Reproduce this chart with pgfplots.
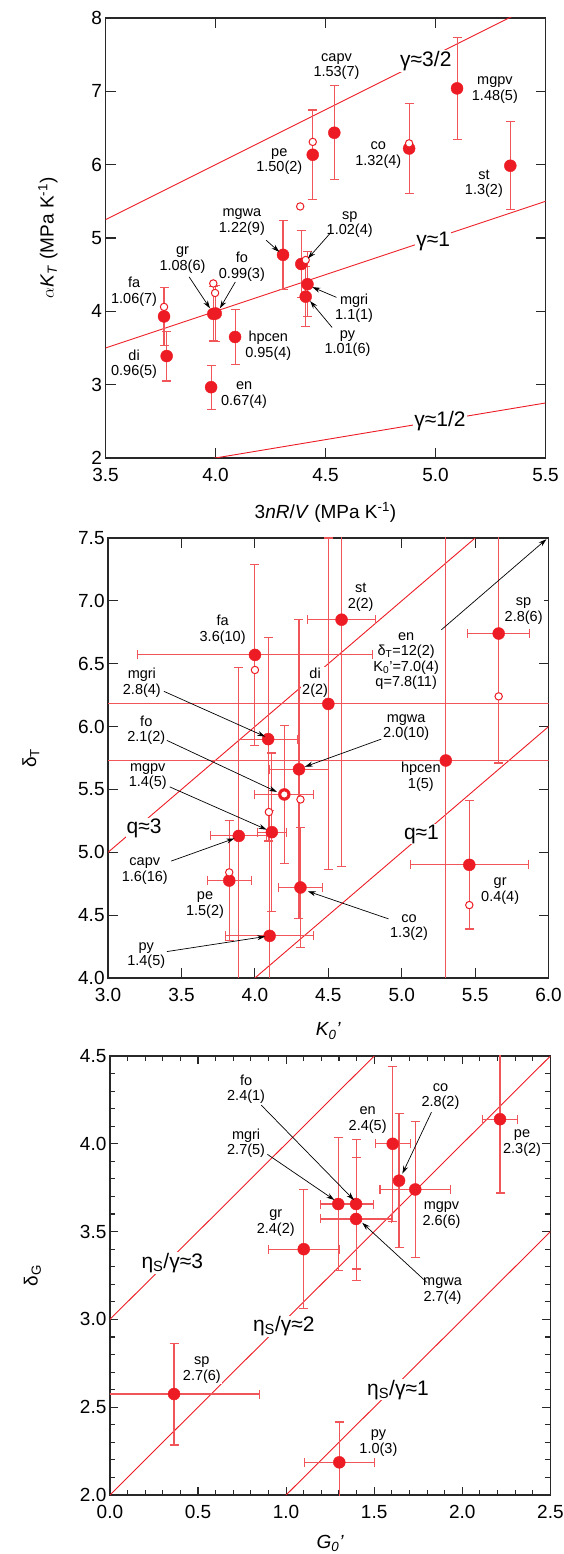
\documentclass[border=0pt]{standalone}
\usepackage{fontspec}
\setmainfont{Liberation Sans}
\usepackage{pgfplots}
\pgfplotsset{compat=1.18}
\usetikzlibrary{arrows.meta}
\definecolor{rd}{RGB}{237,28,36}
\definecolor{erd}{RGB}{240,85,90}
\definecolor{ax}{RGB}{40,40,40}
\pgfplotsset{
 panel/.style={scale only axis, clip mode=individual, anchor=south west,
   axis line style={ax, line width=1.3pt}, tick style={ax, line width=1.1pt},
   tick align=inside, xtick pos=both, ytick pos=both, major tick length=10pt,
   tick label style={font=\fontsize{19}{20}\selectfont},
   xticklabel style={yshift=-7pt},
   label style={font=\fontsize{19}{22}\selectfont},
   xlabel style={yshift=-14pt},
   /pgf/number format/assume math mode=true},
 fix1/.style={/pgf/number format/.cd, fixed, fixed zerofill, precision=1},
 ref/.style={rd, line width=0.9pt, mark=none},
 dat/.style={only marks, mark=*, mark size=6pt, mark options={draw=rd, fill=rd},
   error bars/error bar style={erd, line width=1.1pt},
   error bars/error mark options={erd, line width=1.1pt, mark size=4.5pt, rotate=90}},
 opn/.style={only marks, mark=*, mark size=3.7pt, mark options={draw=rd, fill=white, line width=1pt}},
}
\tikzset{
 lbl/.style={font=\fontsize{14.5}{15.5}\selectfont, align=center, inner sep=1pt, fill=white},
 big/.style={font=\fontsize{21}{22}\selectfont, fill=white, inner sep=1pt},
 arr/.style={-{Stealth[length=8pt,width=5pt]}, line width=0.7pt, black},
}
\begin{document}
\begin{tikzpicture}
\path[use as bounding box] (0,0) rectangle (563pt,1554pt);
% ---------------- Panel 1 ----------------
\begin{axis}[panel, at={(105.5pt,1096pt)}, width=440pt, height=440pt,
  xmin=3.5, xmax=5.5, ymin=2, ymax=8, xtick={3.5,4,...,5.5}, ytick={2,...,8},
  xticklabel style={fix1}, ylabel style={yshift=27pt},
  xlabel={3\textit{nR}/\textit{V} (MPa K\textsuperscript{-1})},
  ylabel={$\alpha$\textit{K}\textsubscript{\textit{T}} (MPa K\textsuperscript{-1})}]
\addplot[ref] coordinates {(3.5,5.25) (5.5,8.25)};
\addplot[ref] coordinates {(3.5,3.5) (5.5,5.5)};
\addplot[ref] coordinates {(3.5,1.75) (5.5,2.75)};
\node[big] at (axis cs:4.956,7.41) {γ≈3/2};
\node[big] at (axis cs:4.99,4.95) {γ≈1};
\node[big] at (axis cs:5.02,2.5) {γ≈1/2};
\node[lbl] at (axis cs:4.55,7.34) {capv\\1.53(7)};
\node[lbl] at (axis cs:5.27,7.02) {mgpv\\1.48(5)};
\node[lbl] at (axis cs:4.29,6.04) {pe\\1.50(2)};
\node[lbl] at (axis cs:4.74,6.13) {co\\1.32(4)};
\node[lbl] at (axis cs:5.22,5.74) {st\\1.3(2)};
\node[lbl] at (axis cs:4.12,5.22) {mgwa\\1.22(9)};
\node[lbl] at (axis cs:4.61,5.18) {sp\\1.02(4)};
\node[lbl] at (axis cs:3.85,4.70) {gr\\1.08(6)};
\node[lbl] at (axis cs:4.12,4.61) {fo\\0.99(3)};
\node[lbl] at (axis cs:3.63,4.27) {fa\\1.06(7)};
\node[lbl] at (axis cs:4.63,4.04) {mgri\\1.1(1)};
\node[lbl] at (axis cs:4.24,3.53) {hpcen\\0.95(4)};
\node[lbl] at (axis cs:4.60,3.56) {py\\1.01(6)};
\node[lbl] at (axis cs:3.63,3.28) {di\\0.96(5)};
\node[lbl] at (axis cs:4.13,2.86) {en\\0.67(4)};
\addplot[dat, error bars/.cd, y dir=both, y explicit] table[x=x, y=y, y error=ey] {
x y ey
4.540 6.435 0.64
4.442 6.135 0.61
4.880 6.220 0.615
5.098 7.040 0.70
5.340 5.985 0.60
4.307 4.770 0.47
4.390 4.645 0.46
4.418 4.370 0.44
4.410 4.200 0.41
3.766 3.930 0.40
3.778 3.390 0.34
3.990 3.965 0.37
4.001 3.970 0.38
4.089 3.650 0.37
3.980 2.965 0.30
};
\addplot[opn] coordinates {(4.442,6.31) (4.880,6.29) (4.385,5.43) (4.41,4.70) (3.766,4.06) (3.99,4.38) (3.998,4.25)};
\draw[arr] (axis cs:4.23,4.97) -- (axis cs:4.29,4.81);
\draw[arr] (axis cs:4.52,5.06) -- (axis cs:4.42,4.72);
\draw[arr] (axis cs:3.88,4.47) -- (axis cs:3.975,4.04);
\draw[arr] (axis cs:4.09,4.40) -- (axis cs:4.02,4.04);
\draw[arr] (axis cs:4.55,4.19) -- (axis cs:4.44,4.33);
\draw[arr] (axis cs:4.53,3.78) -- (axis cs:4.43,4.14);
\end{axis}
% ---------------- Panel 2 ----------------
\begin{axis}[panel, at={(108.1pt,576pt)}, width=440.5pt, height=440pt,
  xmin=3, xmax=6, ymin=4, ymax=7.5, xtick={3,3.5,...,6}, ytick={4,4.5,...,7.5},
  xticklabel style={fix1}, yticklabel style={fix1}, ylabel style={yshift=32pt},
  xlabel={\textit{K\textsubscript{0}'}},
  ylabel={δ\textsubscript{T}}]
\addplot[ref] coordinates {(3,5) (5.5,7.5)};
\addplot[ref] coordinates {(4,4) (6,6)};
\node[big] at (axis cs:3.245,5.19) {q≈3};
\node[big] at (axis cs:5.134,5.145) {q≈1};
\node[lbl] at (axis cs:4.72,7.03) {st\\2(2)};
\node[lbl] at (axis cs:3.78,6.77) {fa\\3.6(10)};
\node[lbl] at (axis cs:5.83,6.92) {sp\\2.8(6)};
\node[lbl] at (axis cs:5.03,6.52) {en\\δ\textsubscript{T}=12(2)\\K\textsubscript{0}'=7.0(4)\\q=7.8(11)};
\node[lbl] at (axis cs:3.23,6.35) {mgri\\2.8(4)};
\node[lbl] at (axis cs:4.41,6.35) {di\\2(2)};
\node[lbl] at (axis cs:3.26,5.97) {fo\\2.1(2)};
\node[lbl] at (axis cs:5.03,5.99) {mgwa\\2.0(10)};
\node[lbl] at (axis cs:3.27,5.60) {mgpv\\1.4(5)};
\node[lbl] at (axis cs:5.13,5.60) {hpcen\\1(5)};
\node[lbl] at (axis cs:3.25,4.85) {capv\\1.6(16)};
\node[lbl] at (axis cs:3.66,4.58) {pe\\1.5(2)};
\node[lbl] at (axis cs:5.67,4.69) {gr\\0.4(4)};
\node[lbl] at (axis cs:5.05,4.40) {co\\1.3(2)};
\node[lbl] at (axis cs:3.26,4.18) {py\\1.4(5)};
\addplot[dat, error bars/.cd, x dir=both, x explicit, y dir=both, y explicit] table[x=x, y=y, x error=ex, y error=ey] {
x y ex ey
4.000 6.570 0.80 0.72
4.590 6.850 0.23 1.96
4.500 6.180 3.00 1.32
5.660 6.740 0.21 1.03
4.090 5.900 0.20 0.81
4.300 5.660 0.20 1.19
4.200 5.460 0.20 0.55
5.300 5.730 3.00 5.00
4.115 5.160 0.10 0.63
3.890 5.130 0.19 1.34
3.825 4.775 0.15 0.48
4.100 4.335 0.30 1.00
4.310 4.720 0.15 0.48
5.460 4.900 0.40 0.51
};
\addplot[opn] coordinates {(4.0,6.45) (5.66,6.24) (4.20,5.46) (4.31,5.42) (4.095,5.32) (3.825,4.84) (5.46,4.58)};
\draw[arr] (axis cs:5.27,6.77) -- (axis cs:5.985,7.49);
\draw[arr] (axis cs:3.38,6.28) -- (axis cs:4.07,5.92);
\draw[arr] (axis cs:3.40,5.89) -- (axis cs:4.15,5.48);
\draw[arr] (axis cs:4.86,5.90) -- (axis cs:4.34,5.68);
\draw[arr] (axis cs:3.42,5.52) -- (axis cs:4.08,5.18);
\draw[arr] (axis cs:3.43,4.93) -- (axis cs:3.86,5.11);
\draw[arr] (axis cs:4.91,4.47) -- (axis cs:4.36,4.69);
\draw[arr] (axis cs:3.40,4.21) -- (axis cs:4.07,4.33);
\end{axis}
% ---------------- Panel 3 ----------------
\begin{axis}[panel, at={(109.9pt,59pt)}, width=440.5pt, height=439pt,
  xmin=0, xmax=2.5, ymin=2, ymax=4.5, xtick={0,0.5,...,2.5}, ytick={2,2.5,...,4.5},
  minor tick num=4, major tick length=8pt, minor tick length=5pt,
  xticklabel style={fix1}, yticklabel style={fix1}, ylabel style={yshift=32pt},
  xlabel style={yshift=5pt},
  xlabel={\textit{G\textsubscript{0}'}},
  ylabel={δ\textsubscript{G}}]
\addplot[ref] coordinates {(0,3) (1.5,4.5)};
\addplot[ref] coordinates {(0,2) (2.5,4.5)};
\addplot[ref] coordinates {(1,2) (2.5,3.5)};
\node[big] at (axis cs:0.354,3.32) {η\textsubscript{S}/γ≈3};
\node[big] at (axis cs:0.987,2.96) {η\textsubscript{S}/γ≈2};
\node[big] at (axis cs:1.635,2.60) {η\textsubscript{S}/γ≈1};
\node[lbl] at (axis cs:0.773,4.31) {fo\\2.4(1)};
\node[lbl] at (axis cs:1.876,4.27) {co\\2.8(2)};
\node[lbl] at (axis cs:1.463,4.135) {en\\2.4(5)};
\node[lbl] at (axis cs:0.773,4.003) {mgri\\2.7(5)};
\node[lbl] at (axis cs:2.339,4.003) {pe\\2.3(2)};
\node[lbl] at (axis cs:0.941,3.547) {gr\\2.4(2)};
\node[lbl] at (axis cs:1.882,3.594) {mgpv\\2.6(6)};
\node[lbl] at (axis cs:1.888,3.16) {mgwa\\2.7(4)};
\node[lbl] at (axis cs:0.522,2.71) {sp\\2.7(6)};
\node[lbl] at (axis cs:1.524,2.295) {py\\1.0(3)};
\addplot[dat, error bars/.cd, x dir=both, x explicit, y dir=both, y explicit] table[x=x, y=y, x error=ex, y error=ey] {
x y ex ey
2.214 4.140 0.10 0.42
1.605 4.000 0.10 0.44
1.641 3.790 0.00 0.38
1.733 3.740 0.20 0.385
1.296 3.657 0.10 0.38
1.397 3.657 0.10 0.37
1.397 3.572 0.20 0.35
1.100 3.400 0.20 0.34
0.364 2.575 0.485 0.29
1.302 2.186 0.20 0.23
};
\draw[arr] (axis cs:0.859,4.22) -- (axis cs:1.385,3.68);
\draw[arr] (axis cs:0.894,3.94) -- (axis cs:1.274,3.68);
\draw[arr] (axis cs:1.825,4.18) -- (axis cs:1.66,3.83);
\draw[arr] (axis cs:1.80,3.21) -- (axis cs:1.432,3.55);
\end{axis}
\end{tikzpicture}
\end{document}
